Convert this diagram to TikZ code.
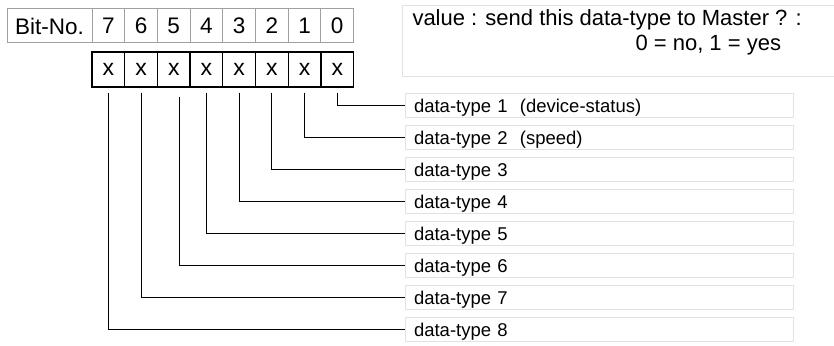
\documentclass[tikz,border=0pt]{standalone}
\usepackage{fontspec}
\setmainfont{Liberation Sans}
\usetikzlibrary{positioning}
\definecolor{cellgray}{RGB}{160,160,160}
\definecolor{boxgray}{RGB}{226,226,226}
\tikzset{
    % Define standard node styles
    bitcell/.style={
        rectangle, draw=cellgray, line width=1pt, inner sep=0pt,
        minimum width=32.7pt, minimum height=34pt,
        font=\fontsize{22.5}{26}\selectfont
    },
    valcell/.style={
        rectangle, draw=black, line width=1.3pt, inner sep=0pt,
        minimum width=32.7pt, minimum height=35pt,
        font=\fontsize{23}{26}\selectfont
    },
    notebox/.style={
        rectangle, draw=boxgray, line width=1pt,
        inner xsep=10pt, inner ysep=4pt,
        font=\fontsize{22}{25}\selectfont
    },
    typebox/.style={
        rectangle, draw=boxgray, line width=1pt, outer sep=0pt,
        text width=370pt, inner xsep=9pt, inner ysep=0pt,
        text height=19.5pt, text depth=4.5pt, align=left,
        font=\fontsize{18.5}{22}\selectfont
    },
    wire/.style={
        line width=1pt, color=black
    }
}

\begin{document}
\begin{tikzpicture}[x=1pt, y=-1pt]
\useasboundingbox (0,0) rectangle (834,345);

% bit numbers
\node[bitcell, minimum width=85pt] (bitno) at (49.5,26) {Bit-No.};
\foreach \b [count=\c from 0] in {7,6,5,4,3,2,1,0}
    \node[bitcell] (b\b) at ({108.35+32.7*\c},26) {\b};

% bit values
\foreach \b [count=\c from 0] in {7,6,5,4,3,2,1,0}
    \node[valcell] (x\b) at ({108.35+32.7*\c},69.5) {x};

\node[notebox, anchor=north west] (note) at (402,5)
    {\parbox[t][63pt][t]{420pt}{value : send this data-type to Master ? :\\
    \hspace*{223pt}0 = no, 1 = yes}};

% data-type boxes
\node[typebox, anchor=north west] (dt1) at (405,93) {data-type 1~~(device-status)};
\node[typebox, below=8pt of dt1] (dt2) {data-type 2~~(speed)};
\node[typebox, below=8pt of dt2] (dt3) {data-type 3};
\node[typebox, below=8pt of dt3] (dt4) {data-type 4};
\node[typebox, below=8pt of dt4] (dt5) {data-type 5};
\node[typebox, below=8pt of dt5] (dt6) {data-type 6};
\node[typebox, below=8pt of dt6] (dt7) {data-type 7};
\node[typebox, below=8pt of dt7] (dt8) {data-type 8};

% bit to data-type
\foreach \b/\d in {0/1,1/2,2/3,3/4,4/5,6/7,7/8}
    \draw[wire] ([yshift=-5pt]x\b.south) |- (dt\d.west);
\draw[wire] ([xshift=6pt,yshift=-9pt]x5.south) |- (dt6.west);

\end{tikzpicture}
\end{document}
